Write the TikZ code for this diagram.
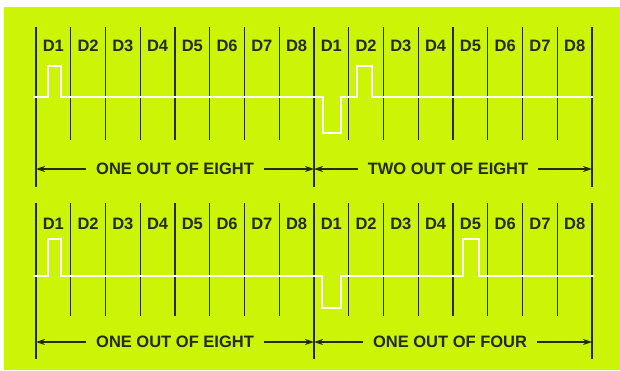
\documentclass[tikz,border=0pt]{standalone}
\usepackage{fontspec}
\setmainfont{Liberation Sans}
\usetikzlibrary{arrows.meta}
\definecolor{bggreen}{RGB}{204,244,6}
\definecolor{inkdark}{RGB}{36,44,14}

\begin{document}
\begin{tikzpicture}[x=1pt, y=-1pt, >={Stealth[length=9pt,width=6pt]},
    grid/.style={draw=inkdark, line width=1.2pt},
    signal/.style={draw=white, line width=2.4pt},
    span/.style={draw=inkdark, line width=1.3pt},
    slotlabel/.style={text=inkdark, font=\bfseries\fontsize{16.5}{17}\selectfont, inner sep=0pt, anchor=base},
    spanlabel/.style={text=inkdark, font=\bfseries\fontsize{16.5}{17}\selectfont, inner xsep=10pt, inner ysep=0pt}]
    % 背景
    \fill[white] (0,0) rectangle (620,370);
    \fill[bggreen] (4,7) rectangle (620,370);

    % 两组时隙格
    \foreach \p/\lt/\lb/\ib/\ar/\lbot in {top/27/51/140/169/187, bot/203/229/316/342/359} {
        % 时隙分隔线
        \foreach \i in {1,...,7,9,10,...,15} {
            \draw[grid] ({36+34.75*\i}, \lt) -- ({36+34.75*\i}, \ib);
        }
        % 组界线
        \foreach \i in {0,8,16} {
            \draw[grid] ({36+34.75*\i}, \lt) -- ({36+34.75*\i}, \lbot);
            \coordinate (\p-m\i) at ({36+34.75*\i}, \ar);
        }
        % 时隙标注 D1 ... D8
        \foreach \i [evaluate=\i as \k using {int(mod(\i-1,8)+1)}] in {1,...,16} {
            \node[slotlabel] (\p-d\i) at ({36+34.75*(\i-0.5)}, \lb) {D\k};
        }
    }

    % 信号波形
    \draw[signal] (33,97) -- (48,97) |- (61,66) |- (323,97) |- (341,133)
        |- (357,97) |- (372,66) |- (593,97);
    \draw[signal] (33,276) -- (48,276) |- (61,239) |- (322,276) |- (341,308)
        |- (463,276) |- (479,239) |- (594,276);

    % 区间标注
    \node[spanlabel] (top-s1) at (175,169) {ONE OUT OF EIGHT};
    \node[spanlabel] (top-s2) at (448,169) {TWO OUT OF EIGHT};
    \node[spanlabel] (bot-s1) at (175,342) {ONE OUT OF EIGHT};
    \node[spanlabel] (bot-s2) at (450,342) {ONE OUT OF FOUR};
    \foreach \p in {top, bot} {
        \draw[span, ->] (\p-s1.west) -- (\p-m0);
        \draw[span, ->] (\p-s1.east) -- (\p-m8);
        \draw[span, ->] (\p-s2.west) -- (\p-m8);
        \draw[span, ->] (\p-s2.east) -- (\p-m16);
    }
\end{tikzpicture}
\end{document}
